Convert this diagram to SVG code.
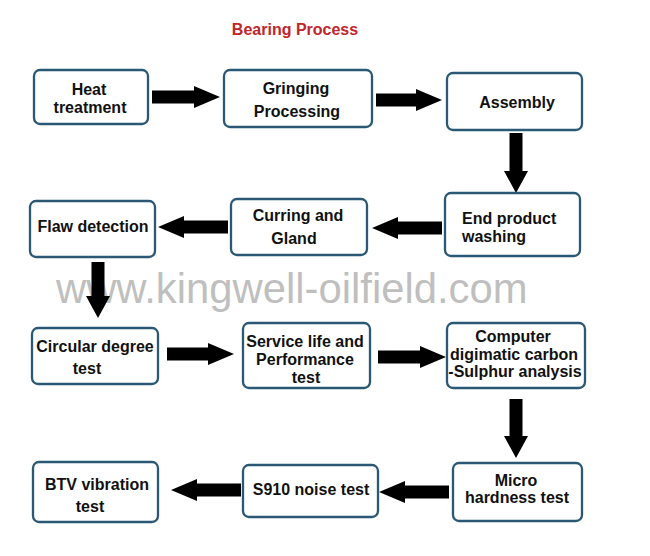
<svg xmlns="http://www.w3.org/2000/svg" width="650" height="556" viewBox="0 0 650 556">
<style>
.box{fill:#fff;stroke:#2b5875;stroke-width:2.3}
.t{font-family:"Liberation Sans",Arial,sans-serif;font-weight:bold;font-size:16px;fill:#111;text-anchor:middle}
.l{text-anchor:start}
.arr{fill:#000}
.wm{font-family:"Liberation Sans",Arial,sans-serif;font-size:41.8px;fill:#bfbfbf}
.title{font-family:"Liberation Sans",Arial,sans-serif;font-weight:bold;font-size:16px;fill:#c0262c;text-anchor:middle}
</style>
<rect width="650" height="556" fill="#fff"/>
<text class="title" x="295" y="35">Bearing Process</text>
<text class="wm" x="56" y="303">www.kingwell-oilfield.com</text>
<g id="connectors">
<polygon class="arr" points="152,90.5 194,90.5 194,86 220,97 194,108 194,103.5 152,103.5"/>
<polygon class="arr" points="376,93.5 416,93.5 416,89 442,100 416,111 416,106.5 376,106.5"/>
<polygon class="arr" points="509.5,133 509.5,171 504,171 516,193 528,171 522.5,171 522.5,133"/>
<polygon class="arr" points="442,221.5 398,221.5 398,217 372,228 398,239 398,234.5 442,234.5"/>
<polygon class="arr" points="228,220.5 184,220.5 184,216 158,227 184,238 184,233.5 228,233.5"/>
<polygon class="arr" points="91.5,262 91.5,296 86,296 98,318 110,296 104.5,296 104.5,262"/>
<polygon class="arr" points="167,347.5 208,347.5 208,343 234,354 208,365 208,360.5 167,360.5"/>
<polygon class="arr" points="378,350.5 420,350.5 420,346 446,357 420,368 420,363.5 378,363.5"/>
<polygon class="arr" points="509.5,399 509.5,436 504,436 516,458 528,436 522.5,436 522.5,399"/>
<polygon class="arr" points="449,485.5 405,485.5 405,481 379,492 405,503 405,498.5 449,498.5"/>
<polygon class="arr" points="241,483.5 197,483.5 197,479 171,490 197,501 197,496.5 241,496.5"/>
</g>
<g id="heat"><rect class="box" x="34" y="70" width="114" height="54" rx="6"/><text class="t" x="89" y="95">Heat</text><text class="t" x="90" y="113">treatment</text></g>
<g id="gringing"><rect class="box" x="224" y="70" width="148" height="57" rx="6"/><text class="t" x="296" y="94">Gringing</text><text class="t" x="297" y="117">Processing</text></g>
<g id="assembly"><rect class="box" x="447" y="73" width="135" height="57" rx="6"/><text class="t" x="517" y="108">Assembly</text></g>
<g id="washing"><rect class="box" x="445" y="193" width="135" height="63" rx="6"/><text class="t l" x="462" y="224">End product</text><text class="t l" x="462" y="242">washing</text></g>
<g id="curring"><rect class="box" x="231" y="199" width="136" height="56" rx="6"/><text class="t" x="298" y="221">Curring and</text><text class="t" x="294" y="244">Gland</text></g>
<g id="flaw"><rect class="box" x="30" y="201" width="125" height="56" rx="6"/><text class="t" x="93" y="232">Flaw detection</text></g>
<g id="circular"><rect class="box" x="32" y="328" width="126" height="56" rx="6"/><text class="t" x="95" y="352">Circular degree</text><text class="t" x="87" y="374">test</text></g>
<g id="service"><rect class="box" x="243" y="323" width="127" height="65" rx="6"/><text class="t" x="305" y="347">Service life and</text><text class="t" x="305" y="365">Performance</text><text class="t" x="306" y="383">test</text></g>
<g id="computer"><rect class="box" x="447" y="323" width="138" height="65" rx="6"/><text class="t" x="513" y="342">Computer</text><text class="t" x="514" y="360">digimatic carbon</text><text class="t" x="515" y="377">-Sulphur analysis</text></g>
<g id="micro"><rect class="box" x="453" y="463" width="129" height="58" rx="6"/><text class="t" x="516" y="486">Micro</text><text class="t" x="517" y="503">hardness test</text></g>
<g id="s910"><rect class="box" x="243" y="465" width="135" height="52" rx="6"/><text class="t" x="311" y="495">S910 noise test</text></g>
<g id="btv"><rect class="box" x="33" y="462" width="125" height="60" rx="6"/><text class="t" x="97" y="490">BTV vibration</text><text class="t" x="90" y="512">test</text></g>
</svg>
